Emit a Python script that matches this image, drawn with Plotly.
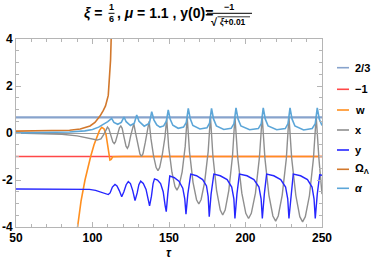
import plotly.graph_objects as go

# ---------------- data ----------------
tau_range = [50, 250]
val_range = [-4, 4]

const_23 = 2 / 3
const_m1 = -1

w_tau = [89, 90.1, 92.5, 95.1, 97, 98.8, 101, 102.7, 104.5, 106, 107.5, 108.8,
         109.8, 110.8, 111.4, 112.2, 113.2, 120, 250]
w_val = [-4.6, -4.0, -2.9, -2.0, -1.45, -1.0, -0.5, -0.2, 0.1, 0.24, 0.18, -0.05,
         -0.5, -1.0, -1.15, -1.12, -1.01, -1.0, -1.0]

x_tau = [50, 65, 80, 90, 98, 103, 105.5, 107.5, 109.8,
         110.7, 112.0, 113.3, 114.2, 115.0, 116.3, 117.6, 118.5,
         119.4, 120.6, 121.9, 122.8, 123.6, 124.9, 126.2, 127,
         128, 129.5, 131, 132, 133, 134.5, 136, 137,
         138.2, 139.9, 141.6, 142.8, 143.9, 145.6, 147.4, 148.5,
         149.8, 151.9, 153.9, 155.2, 156.5, 158.6, 160.6, 161.9,
         163.4, 165.7, 168, 169.5, 171, 173.3, 175.6, 177.1,
         178.7, 181.1, 183.5, 185.1, 186.7, 189.1, 191.5, 193.1,
         194.9, 197.6, 200.2, 202, 203.8, 206.5, 209.1, 210.9,
         212.7, 215.3, 217.9, 219.7, 221.4, 224, 226.7, 228.4,
         230.2, 232.9, 235.5, 237.3, 239.1, 241.8, 244.4, 246.2,
         248, 250]
x_val = [0.0, -0.01, -0.05, -0.12, -0.22, -0.3, -0.25, -0.05, 0.25,
         0.18, -0.1, -0.38, -0.45, -0.38, -0.08, 0.22, 0.3,
         0.2, -0.18, -0.56, -0.65, -0.55, -0.13, 0.3, 0.4,
         0.05, -0.44, -0.89, -1.0, -0.88, -0.4, 0.13, 0.5,
         -0.24, -0.97, -1.47, -1.6, -1.47, -0.93, -0.16, 0.62,
         -0.6, -1.67, -2.28, -2.43, -2.27, -1.65, -0.56, 0.68,
         -0.8, -2.1, -2.84, -3.02, -2.83, -2.09, -0.79, 0.7,
         -0.98, -2.44, -3.28, -3.49, -3.28, -2.44, -0.98, 0.7,
         -1.04, -2.56, -3.42, -3.64, -3.42, -2.56, -1.04, 0.7,
         -1.08, -2.64, -3.53, -3.75, -3.53, -2.64, -1.08, 0.7,
         -1.09, -2.66, -3.56, -3.78, -3.56, -2.66, -1.09, 0.7,
         -1.1, -2.6]

y_tau = [50, 75, 92, 98, 102, 106, 108.5, 110.3, 111.5, 113, 114.7,
         116, 117.5, 119.1, 120.5, 122, 123.4,
         124.8, 126.3, 127.8, 129.2, 130.3, 131.5,
         133.2, 135, 136.3, 137.3, 138.5, 139.6, 140.5,
         142.5, 144.5, 146.2, 147.5, 148.2, 149.2, 150.5,
         153.5, 156.5, 159, 160.3, 161.1, 162.3, 164.2,
         168, 172, 174.5, 175.6, 176.3, 177.5, 179.3,
         183.5, 188, 191, 192.4, 193.1, 194.4, 196,
         201, 205.5, 208.8, 210.2, 211, 212.3, 213.8,
         218.5, 223, 226.2, 227.6, 228.4, 229.7, 231.2,
         236, 240.5, 243.5, 244.8, 245.6, 246.9, 248.5, 250]
y_val = [-2.38, -2.38, -2.385, -2.4, -2.44, -2.53, -2.6, -2.62, -2.55, -2.3, -2.19,
         -2.25, -2.45, -2.71, -2.5, -2.2, -2.07,
         -2.15, -2.45, -2.88, -2.55, -2.2, -2.05,
         -2.15, -2.4, -2.8, -3.1, -2.7, -2.15, -1.95,
         -2.0, -2.15, -2.5, -3.1, -3.35, -2.6, -1.83,
         -1.9, -2.05, -2.35, -2.8, -3.45, -2.6, -1.75,
         -1.82, -1.98, -2.25, -2.7, -3.56, -2.6, -1.75,
         -1.82, -1.98, -2.3, -2.8, -3.64, -2.6, -1.75,
         -1.82, -1.98, -2.3, -2.8, -3.64, -2.6, -1.75,
         -1.82, -1.98, -2.3, -2.8, -3.64, -2.6, -1.75,
         -1.82, -1.98, -2.3, -2.8, -3.64, -2.6, -1.78, -1.8]

omega_tau = [50, 70, 85, 92, 98.4, 101.6, 104.9, 107, 108.5, 110.3, 111.2, 111.8, 112.2, 112.5]
omega_val = [0.08, 0.09, 0.12, 0.17, 0.3, 0.45, 0.72, 0.95, 1.15, 1.6, 2.3, 3.1, 4.0, 5.0]

alpha_tau = [50, 70, 85, 95, 100, 104, 107, 110, 112.5,
             114, 116.5, 118.8, 120.6,
             122, 124.8, 127.3, 128.9,
             130.4, 133.8, 137.2, 138.7,
             140.2, 142, 144.1, 146.5, 148.3, 149.5,
             150.8, 152.5, 156, 159.5, 161.3, 162.6,
             163.9, 165.6, 170.2, 174.8, 176.5, 177.8,
             179.1, 181, 185.8, 190.6, 192.5, 193.8,
             195.1, 197, 202.7, 208.4, 210.3, 211.6,
             212.9, 214.8, 220.4, 226, 227.8, 229.1,
             230.4, 232.3, 238, 243.6, 245.6, 246.9,
             248.2, 250]
alpha_val = [0.0, 0.01, 0.04, 0.09, 0.15, 0.25, 0.35, 0.48, 0.62,
             0.45, 0.37, 0.45, 0.68,
             0.48, 0.32, 0.42, 0.77,
             0.5, 0.29, 0.42, 0.91,
             0.55, 0.34, 0.25, 0.3, 0.5, 0.98,
             0.58, 0.33, 0.2, 0.25, 0.45, 1.05,
             0.6, 0.32, 0.17, 0.22, 0.42, 1.05,
             0.6, 0.3, 0.15, 0.2, 0.4, 1.07,
             0.6, 0.3, 0.14, 0.19, 0.4, 1.07,
             0.6, 0.3, 0.14, 0.19, 0.4, 1.07,
             0.6, 0.3, 0.13, 0.19, 0.4, 1.07,
             0.6, 0.32]

legend_labels = ["2/3", "\u22121", "w", "x", "y", "\u03a9<sub>\u039b</sub>", "<i>\u03b1</i>"]
colors = ["#87a3cc", "#ff4848", "#ff8f1f", "#8f8f8f", "#2626ff", "#d2782c", "#5ca6d8"]

# ---------------- figure ----------------
fig = go.Figure()
fig.add_trace(go.Scatter(x=tau_range, y=[const_23, const_23], mode="lines",
                         line=dict(color=colors[0], width=2.2)))
fig.add_trace(go.Scatter(x=tau_range, y=[const_m1, const_m1], mode="lines",
                         line=dict(color=colors[1], width=1.6)))
fig.add_trace(go.Scatter(x=w_tau, y=w_val, mode="lines", line=dict(color=colors[2], width=1.6)))
fig.add_trace(go.Scatter(x=x_tau, y=x_val, mode="lines", line=dict(color=colors[3], width=1.4)))
fig.add_trace(go.Scatter(x=y_tau, y=y_val, mode="lines", line=dict(color=colors[4], width=1.4)))
fig.add_trace(go.Scatter(x=omega_tau, y=omega_val, mode="lines", line=dict(color=colors[5], width=1.6)))
fig.add_trace(go.Scatter(x=alpha_tau, y=alpha_val, mode="lines", line=dict(color=colors[6], width=1.6)))

W, H = 374, 260
L, R, T, B = 16, 52, 39, 33
pw, ph = W - L - R, H - T - B


def px(xp):
    return (xp - L) / pw


def py(yp):
    return (H - B - yp) / ph


frame = "#b5b5b5"
fig.update_xaxes(range=tau_range, showgrid=False, zeroline=False, showline=True, linecolor=frame,
                 linewidth=1, mirror="allticks", ticks="inside", ticklen=5, tickcolor=frame,
                 tickvals=[50, 100, 150, 200, 250], automargin=False,
                 tickfont=dict(family="Liberation Sans", size=12, color="black", weight="bold"),
                 minor=dict(dtick=10, ticks="inside", ticklen=3, tickcolor=frame, showgrid=False))
fig.update_yaxes(range=val_range, showgrid=False, zeroline=True, zerolinecolor="#9a9a9a",
                 zerolinewidth=1, showline=True, linecolor=frame, linewidth=1, mirror="allticks",
                 ticks="inside", ticklen=5, tickcolor=frame, tickvals=[-4, -2, 0, 2, 4],
                 ticktext=["-4", "-2", "0", "2", "4"], automargin=False,
                 tickfont=dict(family="Liberation Sans", size=12, color="black", weight="bold"),
                 minor=dict(dtick=0.5, ticks="inside", ticklen=3, tickcolor=frame, showgrid=False))

bold = dict(family="Liberation Sans", color="black", weight="bold")
ann = []
shapes = []


def text(s, xp, yp, size, xanchor="center", yanchor="middle"):
    ann.append(dict(text=s, x=px(xp), y=py(yp), xref="paper", yref="paper", showarrow=False,
                    xanchor=xanchor, yanchor=yanchor, font=dict(size=size, **bold)))


def hline(x0, x1, yp, color="black", width=1):
    shapes.append(dict(type="line", xref="paper", yref="paper", x0=px(x0), x1=px(x1),
                       y0=py(yp), y1=py(yp), line=dict(color=color, width=width)))


# title
text("<i>\u03be</i> = ", 108, 13, 14, xanchor="right")
text("1", 111.5, 7.5, 9)
text("6", 111.5, 19.5, 9)
hline(108.5, 114.5, 13.3)
text(", <i>\u03bc</i> = 1.1 , y(0)=", 115, 13, 14, xanchor="left")
text("\u22121", 229, 7.5, 9)
hline(207, 252, 13.3)
text("\u221a", 214, 21.5, 11)
text("<i>\u03be</i>+0.01", 218, 21.5, 8.5, xanchor="left")
hline(217.5, 250, 16.8, width=0.8)

# x axis label
text("<i>\u03c4</i>", 169, 253, 12)

# legend
leg_y = [67.7, 89.3, 110, 130, 150, 169.3, 188.3]
for lab, col, yy in zip(legend_labels, colors, leg_y):
    hline(337, 349, yy, color=col, width=1.6)
    text(lab, 353, yy, 11, xanchor="left")

fig.update_layout(width=W, height=H, margin=dict(l=L, r=R, t=T, b=B, autoexpand=False),
                  paper_bgcolor="white", plot_bgcolor="white", showlegend=False,
                  annotations=ann, shapes=shapes)

fig.write_html("out.html", config={"displayModeBar": False},
               post_script="document.body.style.margin='0';document.body.style.overflow='hidden';")
